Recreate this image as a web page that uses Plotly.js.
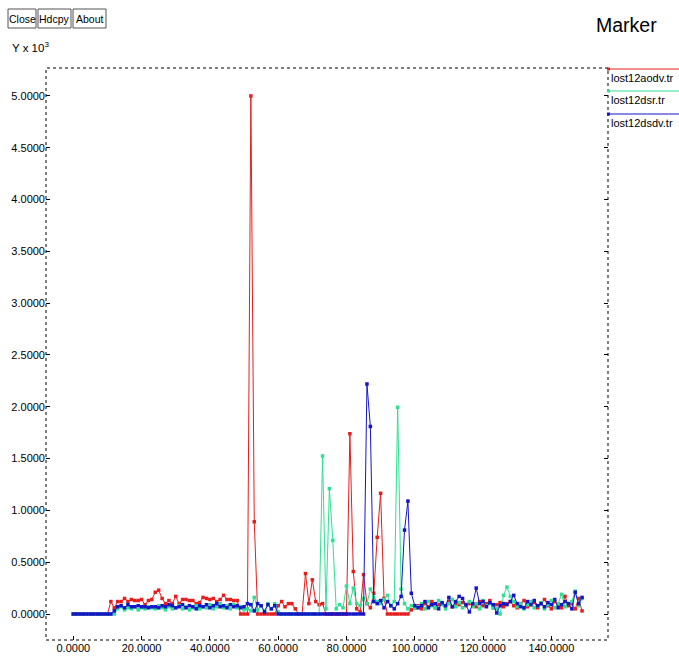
<!DOCTYPE html>
<html>
<head>
<meta charset="utf-8">
<script src="https://cdn.plot.ly/plotly-3.0.1.min.js"></script>
<style>html,body{margin:0;padding:0;background:#fff;}#chart{width:679px;height:664px;}</style>
</head>
<body>
<div id="chart"></div>
<script>
// ---- data (values in units of 10^3) ----
const seriesNames = ["lost12aodv.tr", "lost12dsr.tr", "lost12dsdv.tr"];
const xTickVals = [0, 20, 40, 60, 80, 100, 120, 140];
const yTickVals = [0, 0.5, 1, 1.5, 2, 2.5, 3, 3.5, 4, 4.5, 5];

const aodv = [
0,0,0,0,0,0,0,0,0,0,0,
0.12,0.06,0.12,0.12,0.15,0.12,0.14,0.13,0.13,0.14,
0.09,0.13,0.14,0.21,0.23,0.15,0.10,0.13,0.10,0.17,
0.10,0.14,0.14,0.13,0.13,0.10,0.11,0.16,0.15,0.14,
0.15,0.12,0.14,0.18,0.14,0.14,0.13,0.13,0,0,
0,5.0,0.89,0,0,0,0,0,0,0.08,
0.12,0.07,0.10,0.10,0.05,0,0,0.39,0.10,0.33,
0.12,0.09,0.10,0,0,0,0,0,0,0,
1.74,0.41,0.05,0.02,0.38,0.10,0.06,0.20,0.74,1.165,
0.15,0,0,0,0,0,0,0,0.04,0.06,
0.08,0.05,0.10,0.07,0.12,0.06,0.09,0.10,0.08,0.12,
0.07,0.10,0.09,0.11,0.08,0.10,0.09,0.07,0.12,0.08,
0.10,0.13,0.06,0.09,0.11,0.07,0.10,0.12,0.08,0.06,
0.10,0.13,0.07,0.09,0.11,0.06,0.10,0.14,0.08,0.05,
0.12,0.09,0.06,0.17,0.08,0.10,0.05,0.15,0.03
];

const dsr = [
0,0,0,0,0,0,0,0,0,0,0,0,0,
0.05,0.07,0.04,0.06,0.05,0.07,0.04,0.06,
0.05,0.07,0.06,0.05,0.08,0.06,0.04,0.07,0.05,0.06,
0.08,0.05,0.07,0.04,0.06,0.08,0.05,0.07,0.06,0.09,
0.05,0.07,0.10,0.06,0.08,0.05,0.09,0.06,0.07,0.04,
0.05,0.03,0.16,0.04,0.08,0.03,0.10,0.05,0.10,0.02,
0,0,0,0,0,0,0,0,0,0,
0,0,1.525,0.05,1.21,0.71,0.05,0.09,0.06,0.27,
0.10,0.25,0.10,0.08,0.15,0.10,0.24,0.16,0.12,0.10,
0.14,0.18,0.08,0.12,1.995,0.24,0.10,0.05,0.08,0.06,
0.07,0.10,0.05,0.12,0.08,0.06,0.13,0.09,0.05,0.10,
0.14,0.07,0.11,0.06,0.09,0.12,0.07,0.10,0.05,0.13,
0.08,0.10,0.06,0.05,0.00,0.18,0.26,0.17,0.12,0.07,
0.10,0.05,0.09,0.12,0.06,0.08,0.11,0.05,0.09,0.13,
0.06,0.10,0.19,0.07,0.10,0.12,0.22,0.08,0.15
];

const dsdv = [
0,0,0,0,0,0,0,0,0,0,0,0,
0.03,0.07,0.08,0.06,0.09,0.07,0.07,0.08,0.07,
0.07,0.06,0.07,0.07,0.06,0.08,0.07,0.09,0.08,0.06,
0.07,0.09,0.06,0.08,0.07,0.05,0.08,0.07,0.09,0.06,
0.08,0.10,0.07,0.08,0.06,0.09,0.07,0.08,0.06,0.07,
0.10,0.09,0.03,0.10,0.08,0.02,0.09,0.05,0.08,0,
0,0,0,0,0,0,0,0,0,0,
0,0,0,0,0,0,0,0,0,0,
0,0,0,0,0,2.22,1.81,0.12,0.10,0.13,
0.06,0.12,0.08,0.05,0.10,0.17,0.81,1.09,0.20,0.08,
0.06,0.08,0.12,0.06,0.09,0.10,0.05,0.11,0.08,0.16,
0.07,0.12,0.17,0.15,0.09,0.02,0.10,0.25,0.10,0.12,
0.07,0.11,0.09,0.01,0.08,0.10,0.09,0.12,0.18,0.10,
0.07,0.06,0.12,0.09,0.13,0.08,0.10,0.07,0.11,0.09,
0.14,0.06,0.09,0.12,0.10,0.05,0.21,0.10,0.16
];

const xs = aodv.map((_, i) => i);

// ---- styling ----
const colors = ["#e41e1e", "#2ee092", "#1515c8"];
const FONT = "'Liberation Sans', Arial, sans-serif";
const W = 679, H = 664, L = 46, R = 608, T = 68, B = 640;
const px = v => (v - L) / (R - L);
const py = v => (B - v) / (B - T);

const traces = [aodv, dsr, dsdv].map((ys, k) => ({
  type: "scatter", mode: "lines+markers", name: seriesNames[k],
  x: xs, y: ys,
  line: {color: colors[k], width: 1},
  marker: {color: colors[k], size: 3.5, symbol: "square"},
  hoverinfo: "skip"
}));

const shapes = [
  {type: "rect", xref: "paper", yref: "paper", x0: 0, x1: 1, y0: 0, y1: 1,
   line: {color: "#000", width: 1, dash: "dot"}, fillcolor: "rgba(0,0,0,0)"}
];
const annotations = [];

// legend (custom, right of plot)
const legY = [69, 91, 114];
seriesNames.forEach((n, k) => {
  shapes.push({type: "line", xref: "paper", yref: "paper",
    x0: px(608), x1: px(679), y0: py(legY[k]), y1: py(legY[k]),
    line: {color: colors[k], width: 1}});
  shapes.push({type: "rect", xref: "paper", yref: "paper",
    x0: px(607), x1: px(610), y0: py(legY[k] - 1.5), y1: py(legY[k] + 1.5),
    line: {width: 0}, fillcolor: colors[k]});
  annotations.push({xref: "paper", yref: "paper", x: px(609), y: py(legY[k] + 9),
    xanchor: "left", yanchor: "middle", showarrow: false, text: n,
    font: {family: FONT, size: 11, color: "#000"}});
});

// buttons
const buttons = [["Close", 8, 36], ["Hdcpy", 38, 71], ["About", 73, 106]];
buttons.forEach(b => {
  shapes.push({type: "rect", xref: "paper", yref: "paper",
    x0: px(b[1]), x1: px(b[2]), y0: py(28), y1: py(9),
    line: {color: "#555", width: 1}, fillcolor: "#fff"});
  annotations.push({xref: "paper", yref: "paper", x: px((b[1] + b[2]) / 2), y: py(18.5),
    xanchor: "center", yanchor: "middle", showarrow: false, text: b[0],
    font: {family: FONT, size: 10.5, color: "#000"}});
});

annotations.push({xref: "paper", yref: "paper", x: px(10), y: py(47),
  xanchor: "left", yanchor: "middle", showarrow: false, text: "Y x 10<sup>3</sup>",
  font: {family: FONT, size: 11.5, color: "#000"}});
annotations.push({xref: "paper", yref: "paper", x: px(626), y: py(25),
  xanchor: "center", yanchor: "middle", showarrow: false, text: "Marker",
  font: {family: FONT, size: 19.5, color: "#000"}});

const layout = {
  width: W, height: H,
  margin: {l: L, r: W - R, t: T, b: H - B, pad: 0},
  paper_bgcolor: "#fff", plot_bgcolor: "#fff",
  showlegend: false,
  xaxis: {range: [-8, 156.6], tickvals: xTickVals, tickformat: ".4f",
    ticks: "inside", ticklen: 4, tickcolor: "#000", showgrid: false, zeroline: false,
    showline: false, tickfont: {family: FONT, size: 11, color: "#000"}},
  yaxis: {range: [-0.251, 5.27], tickvals: yTickVals, tickformat: ".4f",
    ticks: "inside", ticklen: 4, tickcolor: "#000", showgrid: false, zeroline: false,
    showline: false, mirror: "ticks", tickfont: {family: FONT, size: 11, color: "#000"}},
  shapes: shapes, annotations: annotations
};

Plotly.newPlot("chart", traces, layout, {staticPlot: true, displayModeBar: false});
</script>
</body>
</html>
